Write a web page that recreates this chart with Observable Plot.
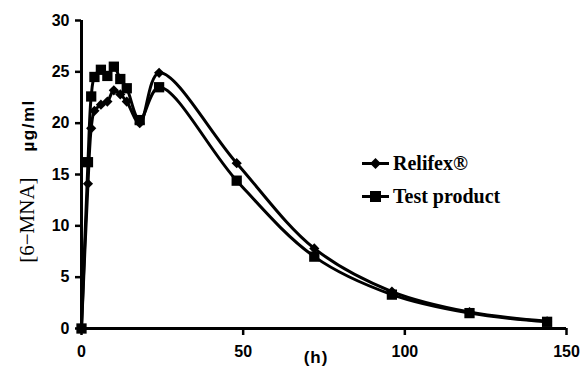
<!DOCTYPE html>
<html>
<head>
<meta charset="utf-8">
<script src="https://cdn.jsdelivr.net/npm/d3@7"></script>
<script src="https://cdn.jsdelivr.net/npm/@observablehq/plot@0.6"></script>
<style>
  html, body { margin: 0; padding: 0; background: #fff; }
  #wrap { position: relative; width: 585px; height: 367px; }
  #ylab { position: absolute; left: 27px; top: 181px; transform: translate(-50%, -50%) rotate(-90deg); white-space: nowrap; color: #000; line-height: 1; }
  #ylab .a { font-family: "Liberation Serif", "Times New Roman", serif; font-size: 21px; }
  #ylab .b { font-family: "Liberation Sans", Arial, sans-serif; font-size: 17px; font-weight: bold; letter-spacing: 1.5px; margin-left: 26px; }
  #xunit { position: absolute; left: 316px; top: 358px; transform: translate(-50%, -50%); font-family: "Liberation Sans", Arial, sans-serif; font-weight: bold; font-size: 17px; letter-spacing: 1px; color: #000; }
  #legend { position: absolute; left: 362px; top: 147px; font-family: "Liberation Serif", "Times New Roman", serif; font-weight: bold; font-size: 20px; color: #000; }
  #legend .row { display: flex; align-items: center; height: 33px; }
  #legend svg { margin-right: 3px; }
</style>
</head>
<body>
<div id="wrap"></div>
<script>
const hours = [0, 2, 3, 4, 6, 8, 10, 12, 14, 18, 24, 48, 72, 96, 120, 144];
const relifex = [0, 14.1, 19.5, 21.2, 21.8, 22.1, 23.2, 22.8, 22.1, 20.0, 24.9, 16.1, 7.8, 3.6, 1.6, 0.7];
const testProduct = [0, 16.2, 22.6, 24.5, 25.2, 24.6, 25.5, 24.3, 23.4, 20.3, 23.5, 14.4, 7.0, 3.3, 1.5, 0.65];
const seriesNames = ["Relifex®", "Test product"];
const seriesSymbols = ["diamond2", "square"];
const yTicks = [0, 5, 10, 15, 20, 25, 30];
const xTicks = [0, 50, 100, 150];
const xUnit = "(h)";

const rows = [];
hours.forEach((h, i) => {
  rows.push({t: h, v: relifex[i], s: seriesNames[0]});
  rows.push({t: h, v: testProduct[i], s: seriesNames[1]});
});

const chart = Plot.plot({
  width: 585,
  height: 367,
  marginLeft: 81,
  marginRight: 19,
  marginTop: 20,
  marginBottom: 39,
  style: {fontFamily: "'Liberation Sans', Arial, sans-serif", fontSize: "16px", fontWeight: "bold", color: "#000", background: "#fff"},
  x: {domain: [0, 150]},
  y: {domain: [0, 30]},
  marks: [
    Plot.axisY({ticks: yTicks, tickSize: 6, tickPadding: 6, strokeWidth: 2.5, label: null}),
    Plot.axisX({ticks: xTicks, tickSize: 7, tickPadding: 10, strokeWidth: 2.5, label: null}),
    Plot.ruleX([0], {strokeWidth: 3}),
    Plot.ruleY([0], {strokeWidth: 3}),
    Plot.line(rows, {x: "t", y: "v", z: "s", curve: "catmull-rom", stroke: "#000", strokeWidth: 3}),
    Plot.dot(rows.filter(d => d.s === seriesNames[0]), {x: "t", y: "v", symbol: seriesSymbols[0], fill: "#000", stroke: "none", r: 4.6}),
    Plot.dot(rows.filter(d => d.s === seriesNames[1]), {x: "t", y: "v", symbol: seriesSymbols[1], fill: "#000", stroke: "none", r: 5.8})
  ]
});

const wrap = document.getElementById("wrap");
wrap.appendChild(chart);

const ylab = document.createElement("div");
ylab.id = "ylab";
ylab.innerHTML = '<span class="a">[6\u2212MNA]</span><span class="b">\u00b5g/ml</span>';
wrap.appendChild(ylab);

const xu = document.createElement("div");
xu.id = "xunit";
xu.textContent = xUnit;
wrap.appendChild(xu);

const legend = document.createElement("div");
legend.id = "legend";
seriesNames.forEach((name, i) => {
  const row = document.createElement("div");
  row.className = "row";
  const marker = seriesSymbols[i] === "square"
    ? '<rect x="8" y="2" width="11" height="11" fill="#000"/>'
    : '<path d="M13.5 2 L19 7.5 L13.5 13 L8 7.5 Z" fill="#000"/>';
  row.innerHTML = '<svg width="28" height="15"><line x1="0" y1="7.5" x2="27" y2="7.5" stroke="#000" stroke-width="3"/>' + marker + '</svg><span>' + name + '</span>';
  legend.appendChild(row);
});
wrap.appendChild(legend);
</script>
</body>
</html>
